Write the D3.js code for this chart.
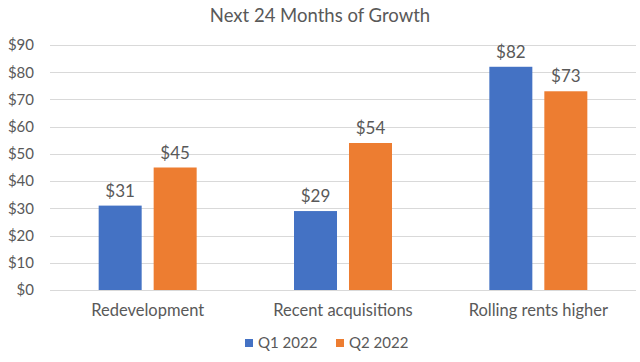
<html>
<head>
    <style>
        body { margin: 0; background: #fff; font-family: Lato, "Open Sans", sans-serif; }
        svg text { fill: #595959; }
    </style>
    <script src="https://cdn.jsdelivr.net/npm/d3@7"></script>
</head>
<body>
<svg id="chart"></svg>
<script>
// data
let categories = ["Redevelopment", "Recent acquisitions", "Rolling rents higher"]
let seriesNames = ["Q1 2022", "Q2 2022"]
let q1Values = [31, 29, 82]
let q2Values = [45, 54, 73]
let yTicks = [0, 10, 20, 30, 40, 50, 60, 70, 80, 90]
let colors = ["#4472C4", "#ED7D31"]

let width = 640, height = 362
let margin = { top: 45, bottom: 72, left: 50, right: 4 }

let svg = d3.select("#chart").attr("width", width).attr("height", height)

let rows = categories.map((c, i) => ({ cat: c, values: [q1Values[i], q2Values[i]] }))

let x0 = d3.scaleBand()
    .domain(categories)
    .range([margin.left, width - margin.right])
    .paddingInner(0).paddingOuter(0)

let x1 = d3.scaleBand()
    .domain(seriesNames)
    .range([0, x0.bandwidth()])
    .paddingInner(0.218).paddingOuter(0.885)

let y = d3.scaleLinear()
    .domain([0, 90])
    .range([height - margin.bottom, margin.top])

// title
svg.append("text")
    .attr("x", 320).attr("y", 22)
    .attr("text-anchor", "middle")
    .style("font-size", "18.5px")
    .text("Next 24 Months of Growth")

// gridlines
svg.append("g").selectAll("line").data(yTicks).enter().append("line")
    .attr("x1", margin.left).attr("x2", width - margin.right)
    .attr("y1", d => Math.round(y(d)) + 0.5).attr("y2", d => Math.round(y(d)) + 0.5)
    .attr("stroke", "#d9d9d9").attr("stroke-width", 1)

// y axis labels
let axisY = d3.axisLeft(y).tickValues(yTicks).tickFormat(d => "$" + d).tickSize(0).tickPadding(16)
let gy = svg.append("g")
    .attr("transform", `translate(${margin.left},0)`)
    .call(axisY)
gy.select(".domain").remove()
gy.selectAll("text").style("font-size", "15px").style("font-family", "Lato, sans-serif").attr("fill", "#595959")

// x axis labels
let axisX = d3.axisBottom(x0).tickSize(0).tickPadding(14)
let gx = svg.append("g")
    .attr("transform", `translate(0,${height - margin.bottom})`)
    .call(axisX)
gx.select(".domain").remove()
gx.selectAll("text").style("font-size", "16.5px").style("font-family", "Lato, sans-serif").attr("fill", "#595959")

// bars
let groups = svg.append("g").selectAll("g").data(rows).enter().append("g")
    .attr("transform", d => `translate(${x0(d.cat)},0)`)

groups.selectAll("rect").data(d => d.values.map((v, i) => ({ s: seriesNames[i], v, i }))).enter().append("rect")
    .attr("x", d => x1(d.s))
    .attr("width", x1.bandwidth())
    .attr("y", d => y(d.v))
    .attr("height", d => y(0) - y(d.v))
    .attr("fill", d => colors[d.i])

groups.selectAll("text.lbl").data(d => d.values.map((v, i) => ({ s: seriesNames[i], v, i }))).enter().append("text")
    .attr("class", "lbl")
    .attr("x", d => x1(d.s) + x1.bandwidth() / 2)
    .attr("y", d => y(d.v) - 9)
    .attr("text-anchor", "middle")
    .style("font-size", "17px")
    .text(d => "$" + d.v)

// legend
let legendX = [245, 336]
let legend = svg.append("g").selectAll("g").data(seriesNames).enter().append("g")
    .attr("transform", (d, i) => `translate(${legendX[i]},339)`)
legend.append("rect").attr("width", 8).attr("height", 8).attr("fill", (d, i) => colors[i])
legend.append("text").attr("x", 13).attr("y", 9).style("font-size", "15px").text(d => d)
</script>
</body>
</html>
